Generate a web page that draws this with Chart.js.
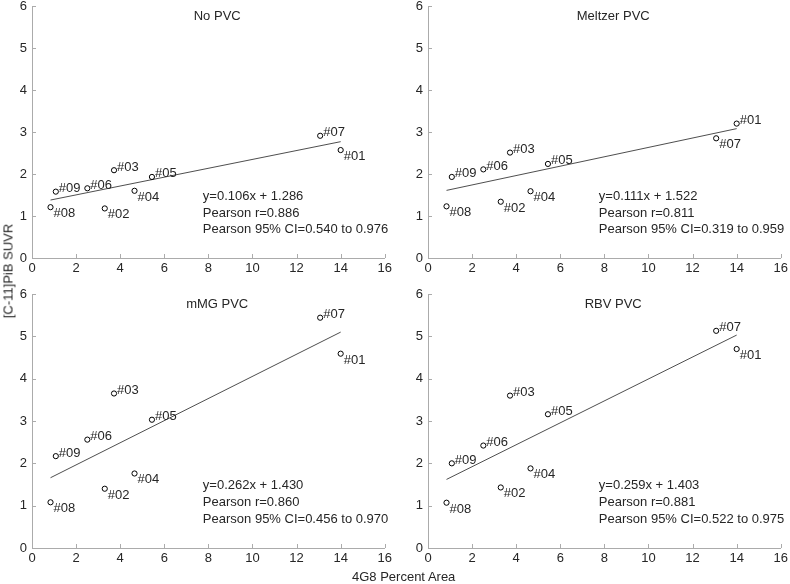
<!DOCTYPE html>
<html>
<head>
<meta charset="utf-8">
<script src="https://cdn.jsdelivr.net/npm/chart.js@4.4.0/dist/chart.umd.min.js"></script>
<style>
  body { margin: 0; background: #fff; }
  #wrap { position: relative; width: 790px; height: 584px; overflow: hidden; font-family: "Liberation Sans", Arial, sans-serif; color: #262626; }
  canvas { position: absolute; }
  .axis-title { position: absolute; font-size: 13px; white-space: nowrap; }
</style>
</head>
<body>
<div id="wrap">
  <canvas id="c0"></canvas>
  <canvas id="c1"></canvas>
  <canvas id="c2"></canvas>
  <canvas id="c3"></canvas>
  <div class="axis-title" id="xTitle" style="left:352px; top:569px;">4G8 Percent Area</div>
  <div class="axis-title" id="yTitle" style="left:8px; top:271px; transform: translate(-50%,-50%) rotate(-90deg);">[C-11]PiB SUVR</div>
</div>
<script>
// Données
const pointIds = ['#01', '#02', '#03', '#04', '#05', '#06', '#07', '#08', '#09'];
const areaValues = [14.0, 3.30, 3.72, 4.65, 5.44, 2.51, 13.07, 0.84, 1.08];

const suvrNoPvc   = [2.57, 1.18, 2.09, 1.60, 1.93, 1.66, 2.91, 1.21, 1.58];
const suvrMeltzer = [3.20, 1.34, 2.51, 1.59, 2.24, 2.11, 2.85, 1.23, 1.93];
const suvrMmg     = [4.59, 1.40, 3.65, 1.76, 3.03, 2.56, 5.44, 1.08, 2.17];
const suvrRbv     = [4.70, 1.43, 3.60, 1.88, 3.16, 2.42, 5.13, 1.07, 2.00];

// Droites de régression (extrémités lues)
const fitX          = [0.84, 14.0];
const fitNoPvc      = [1.38, 2.77];
const fitMeltzer    = [1.61, 3.08];
const fitMmg        = [1.66, 5.10];
const fitRbv        = [1.62, 5.03];

const panelTitles = ['No PVC', 'Meltzer PVC', 'mMG PVC', 'RBV PVC'];
const statsNoPvc   = ['y=0.106x + 1.286', 'Pearson r=0.886', 'Pearson 95% CI=0.540 to 0.976'];
const statsMeltzer = ['y=0.111x + 1.522', 'Pearson r=0.811', 'Pearson 95% CI=0.319 to 0.959'];
const statsMmg     = ['y=0.262x + 1.430', 'Pearson r=0.860', 'Pearson 95% CI=0.456 to 0.970'];
const statsRbv     = ['y=0.259x + 1.403', 'Pearson r=0.881', 'Pearson 95% CI=0.522 to 0.975'];

// Position des étiquettes (au-dessus / en dessous du point)
const labelsNoPvc   = ['down', 'down', 'up', 'down', 'up', 'up', 'up', 'down', 'up'];
const labelsMeltzer = ['up', 'down', 'up', 'down', 'up', 'up', 'down', 'down', 'up'];
const labelsMmg     = ['down', 'down', 'up', 'down', 'up', 'up', 'up', 'down', 'up'];
const labelsRbv     = ['down', 'down', 'up', 'down', 'up', 'up', 'up', 'down', 'up'];

const FONT = '"Liberation Sans", Arial, sans-serif';
const AXIS_COLOR = '#ababab';
const TEXT_COLOR = '#262626';

// Géométrie des panneaux (zone de tracé)
const panels = [
    { left: 32,  top: 6,   h: 252, values: suvrNoPvc,   fit: fitNoPvc,   stats: statsNoPvc,   labels: labelsNoPvc },
    { left: 428, top: 6,   h: 252, values: suvrMeltzer, fit: fitMeltzer, stats: statsMeltzer, labels: labelsMeltzer },
    { left: 32,  top: 294, h: 254, values: suvrMmg,     fit: fitMmg,     stats: statsMmg,     labels: labelsMmg },
    { left: 428, top: 294, h: 254, values: suvrRbv,     fit: fitRbv,     stats: statsRbv,     labels: labelsRbv }
];

// Traits de graduation vers l'intérieur + textes
const annotPlugin = {
    id: 'annot',
    afterDraw(chart, args, opts) {
        const ctx = chart.ctx;
        const xs = chart.scales.x, ys = chart.scales.y;
        const area = chart.chartArea;
        ctx.save();
        ctx.strokeStyle = AXIS_COLOR;
        ctx.lineWidth = 1;
        ctx.beginPath();
        xs.ticks.forEach(t => {
            const px = Math.round(xs.getPixelForValue(t.value)) + 0.5;
            ctx.moveTo(px, area.bottom);
            ctx.lineTo(px, area.bottom - 4);
        });
        ys.ticks.forEach(t => {
            const py = Math.round(ys.getPixelForValue(t.value)) + 0.5;
            ctx.moveTo(area.left, py);
            ctx.lineTo(area.left + 4, py);
        });
        ctx.stroke();

        ctx.fillStyle = TEXT_COLOR;
        ctx.font = '13px ' + FONT;
        // titre
        ctx.textAlign = 'center';
        ctx.textBaseline = 'middle';
        ctx.fillText(opts.title, xs.getPixelForValue(8.4), area.top + 10);

        // étiquettes des points
        ctx.textAlign = 'left';
        ctx.textBaseline = 'alphabetic';
        const meta = chart.getDatasetMeta(0);
        meta.data.forEach((pt, i) => {
            const dy = opts.labels[i] === 'up' ? 0.5 : 10;
            ctx.fillText(pointIds[i], pt.x + 3, pt.y + dy);
        });

        // statistiques
        ctx.textBaseline = 'middle';
        const sx = xs.getPixelForValue(7.75);
        const sy = ys.getPixelForValue(1.47);
        opts.stats.forEach((line, i) => {
            ctx.fillText(line, sx, sy + i * 16.7);
        });
        ctx.restore();
    }
};

function makePanel(idx) {
    const p = panels[idx];
    const canvas = document.getElementById('c' + idx);
    const W = 395, H = 14 + p.h + 30;
    canvas.width = W;
    canvas.height = H;
    canvas.style.width = W + 'px';
    canvas.style.height = H + 'px';
    canvas.style.left = (p.left - 32) + 'px';
    canvas.style.top = (p.top - 14) + 'px';

    const points = areaValues.map((x, i) => ({ x: x, y: p.values[i] }));
    const line = fitX.map((x, i) => ({ x: x, y: p.fit[i] }));

    new Chart(canvas.getContext('2d'), {
        type: 'scatter',
        data: {
            datasets: [
                {
                    data: points,
                    pointStyle: 'circle',
                    pointRadius: 2.6,
                    borderColor: '#000',
                    backgroundColor: 'rgba(0,0,0,0)',
                    borderWidth: 1
                },
                {
                    type: 'line',
                    data: line,
                    borderColor: '#3a3a3a',
                    borderWidth: 0.9,
                    pointRadius: 0,
                    fill: false
                }
            ]
        },
        options: {
            responsive: false,
            animation: false,
            devicePixelRatio: 1,
            layout: { padding: { top: 14, right: 9, left: 0, bottom: 0 } },
            plugins: {
                legend: { display: false },
                tooltip: { enabled: false },
                annot: { title: panelTitles[idx], stats: p.stats, labels: p.labels }
            },
            scales: {
                x: {
                    type: 'linear',
                    min: 0, max: 16,
                    ticks: { stepSize: 2, color: TEXT_COLOR, font: { family: FONT, size: 13 }, padding: 3, maxRotation: 0 },
                    grid: { drawOnChartArea: false, drawTicks: false },
                    border: { color: AXIS_COLOR, width: 1 },
                    afterFit: s => { s.height = 30; }
                },
                y: {
                    type: 'linear',
                    min: 0, max: 6,
                    ticks: { stepSize: 1, color: TEXT_COLOR, font: { family: FONT, size: 13 }, padding: 5 },
                    grid: { drawOnChartArea: false, drawTicks: false },
                    border: { color: AXIS_COLOR, width: 1 },
                    afterFit: s => { s.width = 32; }
                }
            }
        },
        plugins: [annotPlugin]
    });
}

document.addEventListener('DOMContentLoaded', () => {
    for (let i = 0; i < 4; i++) makePanel(i);
});
</script>
</body>
</html>
